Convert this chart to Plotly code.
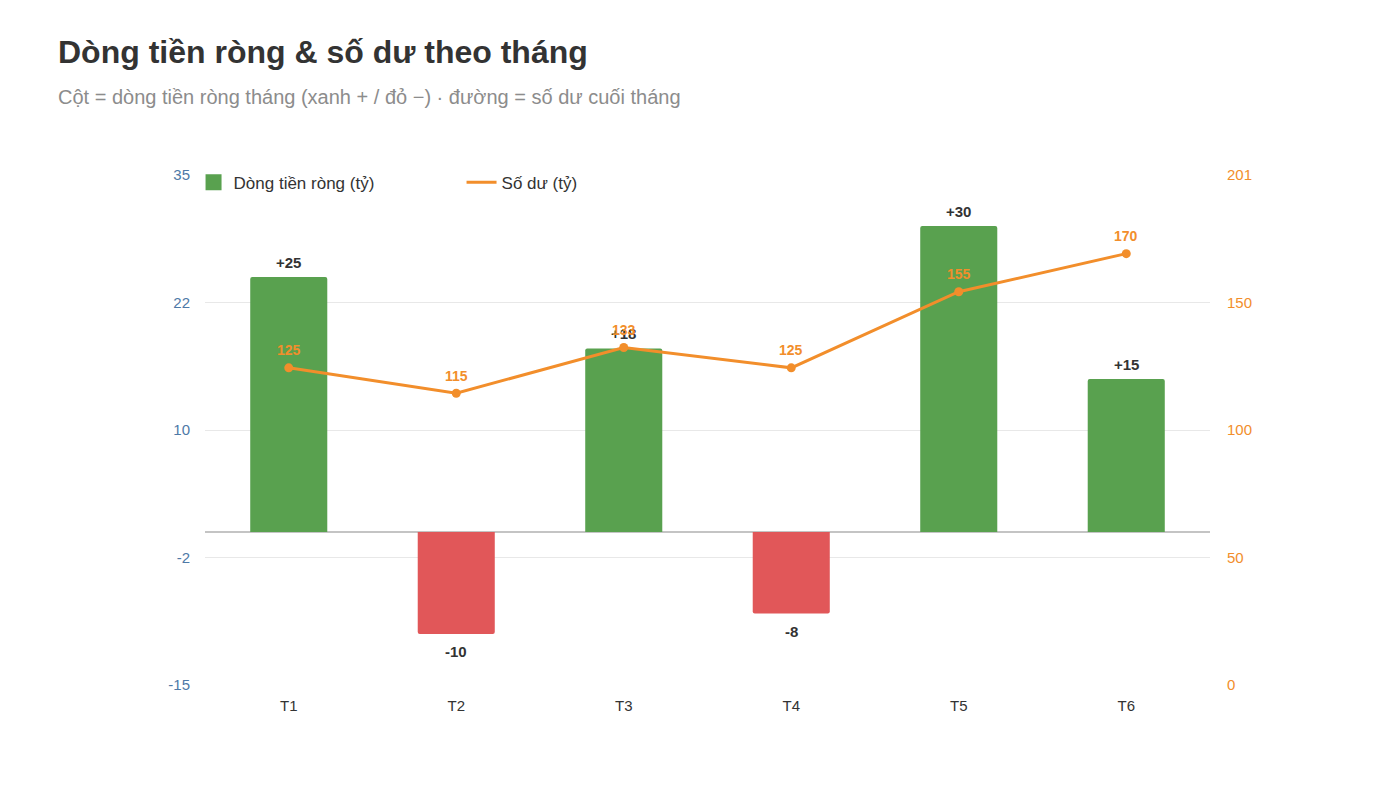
import plotly.graph_objects as go

months = ["T1", "T2", "T3", "T4", "T5", "T6"]
net_flow = [25, -10, 18, -8, 30, 15]
balance = [125, 115, 133, 125, 155, 170]

left_tickvals = [-15, -2.5, 10, 22.5, 35]
left_ticktext = ["-15", "-2", "10", "22", "35"]
right_tickvals = [0, 50.25, 100.5, 150.75, 201]
right_ticktext = ["0", "50", "100", "150", "201"]

GREEN = "#59a14f"
RED = "#e15759"
ORANGE = "#f28e2b"
BLUE = "#4e79a7"
FONT = "Liberation Sans, Arial, sans-serif"

bar_colors = [GREEN if v >= 0 else RED for v in net_flow]
bar_text = [f"{v:+d}" for v in net_flow]

fig = go.Figure()
fig.add_trace(go.Bar(
    x=months, y=net_flow, name="Dòng tiền ròng (tỷ)",
    marker=dict(color=bar_colors, line=dict(width=0), cornerradius=2),
    width=0.46, yaxis="y", showlegend=False,
))
fig.add_trace(go.Scatter(
    x=months, y=balance, name="Số dư (tỷ)", yaxis="y2",
    mode="lines+markers",
    line=dict(color=ORANGE, width=3),
    marker=dict(color=ORANGE, size=9),
    cliponaxis=False, showlegend=False,
))

# Legend entries
fig.add_trace(go.Scatter(
    x=[None], y=[None], name="Dòng tiền ròng (tỷ)", mode="markers",
    marker=dict(color=GREEN, symbol="square", size=16), showlegend=True,
))
fig.add_trace(go.Scatter(
    x=[None], y=[None], name="Số dư (tỷ)", mode="lines",
    line=dict(color=ORANGE, width=3), showlegend=True,
))

annotations = []
for m, v, t in zip(months, net_flow, bar_text):
    annotations.append(dict(
        x=m, y=v, xref="x", yref="y", text=f"<b>{t}</b>", showarrow=False,
        yanchor="middle", yshift=15 if v >= 0 else -17.5,
        font=dict(family=FONT, size=15, color="#333333"),
    ))
for m, b in zip(months, balance):
    annotations.append(dict(
        x=m, y=b, xref="x", yref="y2", text=f"<b>{b}</b>", showarrow=False,
        yanchor="middle", yshift=17.5,
        font=dict(family=FONT, size=14, color=ORANGE),
    ))
annotations.append(dict(
    text="<b>Dòng tiền ròng & số dư theo tháng</b>", xref="paper", yref="paper",
    x=0, y=1, xanchor="left", yanchor="middle", showarrow=False,
    xshift=-149, yshift=175 - 52,
    font=dict(family=FONT, size=32, color="#333333"),
))
annotations.append(dict(
    text="Cột = dòng tiền ròng tháng (xanh + / đỏ −) · đường = số dư cuối tháng",
    xref="paper", yref="paper", x=0, y=1, xanchor="left", yanchor="middle",
    showarrow=False, xshift=-149, yshift=175 - 97,
    font=dict(family=FONT, size=20, color="#8c8c8c"),
))

fig.update_layout(
    width=1400, height=787,
    paper_bgcolor="white", plot_bgcolor="white",
    margin=dict(l=205, r=190, t=175, b=102),
    font=dict(family=FONT, color="#333333"),
    barmode="overlay",
    showlegend=True,
    legend=dict(
        orientation="h", x=-0.0114, xanchor="left", y=1.02, yanchor="top",
        font=dict(family=FONT, size=17, color="#333333"),
        bgcolor="rgba(0,0,0,0)",
        entrywidth=223, entrywidthmode="pixels",
        itemwidth=30, itemsizing="trace",
    ),
    xaxis=dict(
        showgrid=False, showline=False, ticks="",
        tickfont=dict(family=FONT, size=15, color="#333333"),
        ticklabelstandoff=10,
    ),
    yaxis=dict(
        range=[-15, 35], tickvals=left_tickvals, ticktext=left_ticktext,
        showgrid=True, gridcolor="#e8e8e8", gridwidth=1,
        zeroline=True, zerolinecolor="#c4c4c4", zerolinewidth=2,
        tickfont=dict(family=FONT, size=15, color=BLUE),
        ticks="", showline=False, ticklabelstandoff=14,
    ),
    yaxis2=dict(
        range=[0, 201], tickvals=right_tickvals, ticktext=right_ticktext,
        overlaying="y", side="right", showgrid=False, zeroline=False,
        tickfont=dict(family=FONT, size=15, color=ORANGE),
        ticks="", showline=False, ticklabelstandoff=16,
    ),
    annotations=annotations,
)

fig.write_html("out.html")
